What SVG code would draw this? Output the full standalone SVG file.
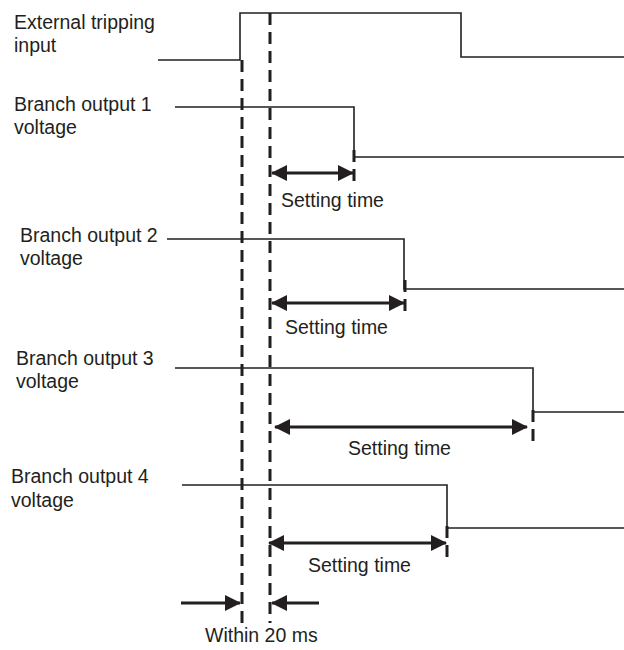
<svg xmlns="http://www.w3.org/2000/svg" width="624" height="650" viewBox="0 0 624 650">
<defs>
<style>
.sig{fill:none;stroke:#231f20;stroke-width:1.6}
.dash{fill:none;stroke:#231f20;stroke-width:3;stroke-dasharray:12 7}
.arr{fill:none;stroke:#231f20;stroke-width:3}
.lbl{font-family:"Liberation Sans",Arial,sans-serif;font-size:19.5px;fill:#231f20}
</style>
<marker id="ah" viewBox="0 0 16 16" refX="15" refY="8" markerWidth="16" markerHeight="16" markerUnits="userSpaceOnUse" orient="auto-start-reverse">
<path d="M0,0 L16,8 L0,16 Z" fill="#231f20"/>
</marker>
</defs>
<rect width="624" height="650" fill="#fff"/>
<g id="trip">
<path class="sig" d="M158,60 H240 V13 H461 V57 H624"/>
<text class="lbl" x="14" y="29">External tripping</text>
<text class="lbl" x="14" y="52">input</text>
</g>
<g id="branch1">
<path class="sig" d="M175,107 H354 V157 H624"/>
<text class="lbl" x="14" y="111">Branch output 1</text>
<text class="lbl" x="14" y="134">voltage</text>
</g>
<g id="branch2">
<path class="sig" d="M167,239 H404 V289 H624"/>
<text class="lbl" x="20" y="242">Branch output 2</text>
<text class="lbl" x="20" y="265">voltage</text>
</g>
<g id="branch3">
<path class="sig" d="M175,368 H533 V412 H624"/>
<text class="lbl" x="16" y="365">Branch output 3</text>
<text class="lbl" x="16" y="388">voltage</text>
</g>
<g id="branch4">
<path class="sig" d="M182,485 H447 V528 H624"/>
<text class="lbl" x="11" y="483">Branch output 4</text>
<text class="lbl" x="11" y="507">voltage</text>
</g>
<g id="connectors">
<line class="dash" x1="242" y1="60" x2="242" y2="623"/>
<line class="dash" x1="270" y1="13" x2="270" y2="623"/>
<line class="dash" x1="354" y1="150" x2="354" y2="186"/>
<line class="dash" x1="405" y1="280" x2="405" y2="314"/>
<line class="dash" x1="533" y1="410" x2="533" y2="445"/>
<line class="dash" x1="447" y1="526" x2="447" y2="563"/>
<line class="arr" x1="272" y1="173" x2="353" y2="173" marker-start="url(#ah)" marker-end="url(#ah)"/>
<line class="arr" x1="272" y1="303" x2="404" y2="303" marker-start="url(#ah)" marker-end="url(#ah)"/>
<line class="arr" x1="275" y1="427" x2="527" y2="427" marker-start="url(#ah)" marker-end="url(#ah)"/>
<line class="arr" x1="269" y1="543" x2="446" y2="543" marker-start="url(#ah)" marker-end="url(#ah)"/>
<line class="arr" x1="181" y1="603" x2="240" y2="603" marker-end="url(#ah)"/>
<line class="arr" x1="319" y1="603" x2="272" y2="603" marker-end="url(#ah)"/>
</g>
<g id="labels">
<text class="lbl" x="281" y="207">Setting time</text>
<text class="lbl" x="285" y="334">Setting time</text>
<text class="lbl" x="348" y="455">Setting time</text>
<text class="lbl" x="308" y="572">Setting time</text>
<text class="lbl" x="205" y="642">Within 20 ms</text>
</g>
</svg>
